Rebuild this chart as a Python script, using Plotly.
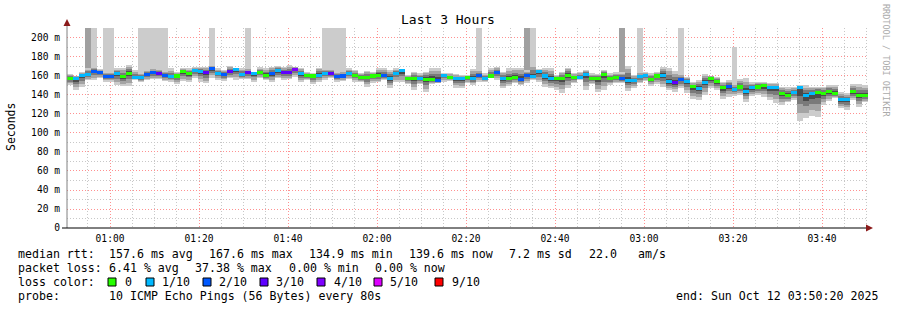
import numpy as np
import pandas as pd
import plotly.graph_objects as go

# ---------------- data (80 s steps, 00:50:20 -> 03:50:20) ----------------
start_time = "2025-10-12 00:50:20"
step_seconds = 80

median_ms = [
    157.6, 157.0, 160.7, 162.0, 165.0, 163.5, 159.0, 159.0, 162.5, 159.0,
    163.0, 158.0, 158.0, 161.5, 163.5, 162.5, 160.5, 159.0, 160.0, 165.0,
    162.5, 165.5, 165.0, 163.5, 167.5, 163.0, 161.5, 165.0, 167.0, 162.0,
    163.5, 162.5, 163.5, 160.7, 162.5, 165.3, 163.5, 163.5, 166.6, 162.5,
    160.7, 160.0, 161.0, 163.0, 163.0, 159.6, 160.0, 162.8, 161.0, 158.8,
    158.8, 160.0, 160.7, 160.3, 157.5, 162.8, 165.3, 157.5, 157.5, 157.2,
    156.8, 156.8, 155.4, 161.0, 158.1, 157.2, 157.5, 158.8, 157.2, 161.0,
    157.5, 160.0, 163.5, 157.5, 157.5, 158.1, 156.8, 160.7, 159.3, 164.6,
    160.0, 157.5, 157.5, 157.5, 161.0, 158.1, 158.1, 162.0, 157.5, 157.5,
    162.0, 157.5, 158.1, 157.8, 155.4, 155.4, 159.3, 160.3, 156.8, 160.0,
    161.0, 153.7, 153.3, 156.5, 154.4, 148.8, 146.8, 153.3, 157.2, 154.0,
    147.4, 149.1, 145.8, 148.4, 144.0, 147.4, 148.4, 149.5, 147.7, 147.7,
    141.4, 139.3, 142.8, 147.4, 139.6, 141.4, 143.0, 141.7, 143.5, 142.0,
    134.9, 134.9, 143.7, 139.3, 139.6,
]

loss_count = [
    0, 1, 1, 1, 2, 2, 2, 2, 1, 0,
    0, 1, 1, 2, 2, 3, 2, 1, 0, 0,
    0, 1, 1, 3, 2, 1, 2, 3, 1, 1,
    3, 1, 0, 0, 2, 1, 3, 3, 4, 1,
    0, 0, 1, 1, 3, 2, 2, 1, 0, 0,
    0, 0, 0, 2, 1, 1, 1, 0, 0, 1,
    0, 0, 2, 1, 0, 1, 1, 0, 1, 2,
    1, 0, 2, 1, 0, 0, 2, 2, 1, 1,
    1, 1, 0, 0, 0, 0, 1, 1, 0, 0,
    0, 0, 0, 2, 1, 1, 1, 1, 0, 0,
    1, 1, 3, 2, 1, 0, 1, 1, 0, 0,
    0, 2, 1, 0, 1, 1, 0, 0, 1, 1,
    0, 0, 1, 1, 1, 1, 0, 0, 0, 0,
    1, 1, 0, 0, 0,
]

smoke_low = [
    150.5, 144.9, 148.1, 155.8, 155.8, 157.5, 154.0, 154.0, 150.2, 149.5,
    149.5, 155.8, 154.0, 155.8, 156.5, 156.8, 154.7, 154.0, 151.2, 154.7,
    154.0, 158.2, 154.0, 152.3, 158.2, 155.8, 154.7, 157.5, 155.8, 156.5,
    156.5, 154.0, 157.5, 155.8, 154.0, 157.5, 155.8, 156.5, 159.3, 153.3,
    155.8, 151.2, 154.0, 155.8, 157.5, 154.0, 154.7, 156.5, 154.0, 153.3,
    148.8, 152.3, 153.3, 155.8, 147.7, 154.0, 153.3, 151.2, 145.3, 151.2,
    142.8, 151.2, 152.3, 154.0, 154.7, 147.7, 147.0, 152.3, 150.5, 154.0,
    153.3, 157.5, 155.8, 147.0, 149.8, 152.3, 150.5, 152.3, 155.8, 153.3,
    148.8, 147.0, 145.3, 142.4, 147.0, 152.3, 155.8, 145.3, 151.2, 142.8,
    145.3, 150.5, 152.3, 152.3, 144.2, 147.0, 152.3, 154.7, 149.8, 151.2,
    148.8, 145.3, 143.5, 147.0, 141.7, 135.8, 134.7, 140.0, 147.0, 145.3,
    135.8, 138.2, 139.3, 140.0, 133.0, 139.3, 140.0, 138.2, 134.7, 131.2,
    129.5, 132.3, 134.7, 112.6, 115.4, 118.2, 117.2, 129.5, 133.7, 136.5,
    126.0, 124.2, 134.7, 127.7, 132.3,
]

smoke_high = [
    162.1, 160.3, 164.6, 168.0, 170.0, 167.0, 165.0, 165.0, 168.1, 168.1,
    171.6, 166.3, 164.0, 167.0, 168.0, 168.0, 166.0, 168.0, 164.6, 168.1,
    168.1, 169.8, 169.8, 169.8, 172.0, 168.1, 166.3, 170.9, 168.1, 168.1,
    168.0, 164.6, 169.1, 168.8, 169.8, 170.9, 169.8, 171.6, 169.8, 168.8,
    164.6, 162.8, 168.8, 168.0, 168.0, 165.0, 165.0, 168.1, 166.3, 162.8,
    165.3, 164.6, 168.8, 168.8, 166.3, 168.1, 167.0, 161.0, 164.6, 162.8,
    164.6, 168.1, 168.8, 162.8, 162.8, 161.8, 161.0, 161.0, 167.4, 166.0,
    162.8, 168.1, 169.8, 164.6, 168.1, 168.8, 168.8, 166.0, 173.0, 167.4,
    168.1, 168.1, 161.0, 164.6, 168.8, 162.8, 164.6, 166.3, 162.8, 161.8,
    166.3, 162.8, 163.9, 164.0, 170.9, 161.0, 164.0, 164.6, 162.8, 164.6,
    169.8, 168.8, 165.3, 162.0, 159.3, 153.3, 155.8, 161.8, 160.3, 159.3,
    154.0, 155.8, 152.0, 156.8, 157.5, 153.3, 154.0, 153.3, 152.3, 152.3,
    148.8, 148.8, 148.8, 150.5, 150.5, 148.8, 148.8, 148.8, 150.5, 150.5,
    143.5, 141.7, 151.2, 151.2, 150.5,
]

# columns where smoke runs off the top of the graph (lost/very slow pings)
spike_light_steps = [4, 6, 7, 12, 13, 14, 15, 16, 24, 30, 43, 44, 45, 46, 69, 78, 96, 103]
spike_dark_steps = [3, 77, 93]
partial_spike = {112: 190.5}

loss_levels = [0, 1, 2, 3, 4, 5, 9]
loss_labels = ["0", "1/10", "2/10", "3/10", "4/10", "5/10", "9/10"]
loss_colors = ["#26ff00", "#00b8ff", "#0059ff", "#5e00ff", "#7e00ff", "#dd00ff", "#ff0000"]

y_tick_vals = [0, 20, 40, 60, 80, 100, 120, 140, 160, 180, 200]
y_tick_text = ["0", "20 m", "40 m", "60 m", "80 m", "100 m", "120 m", "140 m",
               "160 m", "180 m", "200 m"]

# ---------------- figure ----------------
W, H = 897, 310
ML, MR, MT, MB = 67, 29, 28, 82
Y_MAX = 210.5
MONO = "DejaVu Sans Mono"

n = len(median_ms)
t0 = pd.Timestamp(start_time)
centers = t0 + pd.to_timedelta(np.arange(n) * step_seconds + step_seconds / 2, unit="s")
t_end = t0 + pd.Timedelta(seconds=n * step_seconds)
bw = step_seconds * 1000

med = np.array(median_ms)
lo = np.array(smoke_low)
hi = np.array(smoke_high)


def color_for_loss(c):
    best = 0
    for i, lv in enumerate(loss_levels):
        if c >= lv:
            best = i
    return loss_colors[best]


def bar(base, top, color):
    return go.Bar(x=centers, base=base, y=np.array(top) - np.array(base), width=bw,
                  marker=dict(color=color, line=dict(width=0)),
                  hoverinfo="skip", showlegend=False)


fig = go.Figure()

# spikes to top
sp_base, sp_top, sp_col = [], [], []
for k in range(n):
    if k in spike_dark_steps:
        sp_base.append(lo[k]); sp_top.append(Y_MAX); sp_col.append("#a0a0a0")
    elif k in spike_light_steps:
        sp_base.append(lo[k]); sp_top.append(Y_MAX); sp_col.append("#cccccc")
    elif k in partial_spike:
        sp_base.append(lo[k]); sp_top.append(partial_spike[k]); sp_col.append("#cccccc")
    else:
        sp_base.append(0); sp_top.append(0); sp_col.append("rgba(0,0,0,0)")
fig.add_trace(bar(sp_base, sp_top, sp_col))

# smoke shading (outer pings light, inner pings darker)
fig.add_trace(bar(lo, hi, "#cccccc"))
for frac, col in [(0.75, "#a4a4a4"), (0.48, "#7a7a7a"), (0.24, "#4a4a4a")]:
    fig.add_trace(bar(med - frac * (med - lo), med + frac * (hi - med), col))

# median coloured by loss
fig.add_trace(bar(med - 1.6, med + 1.6, [color_for_loss(c) for c in loss_count]))

fig.update_layout(
    width=W, height=H,
    margin=dict(l=ML, r=MR, t=MT, b=MB, pad=0),
    paper_bgcolor="white", plot_bgcolor="white",
    barmode="overlay", bargap=0,
    font=dict(family=MONO, color="black"),
    showlegend=False,
)

fig.update_xaxes(
    type="date", range=[t0, t_end],
    tick0="2025-10-12 01:00:00", dtick=20 * 60 * 1000, tickformat="%H:%M",
    tickfont=dict(family=MONO, size=9.6, color="black"),
    showgrid=True, gridcolor="#ff9090", griddash="1px,2px", gridwidth=1,
    minor=dict(dtick=5 * 60 * 1000, tick0="2025-10-12 01:00:00", showgrid=True,
               gridcolor="#c8c8c8", griddash="1px,2px", gridwidth=1),
    showline=False, zeroline=False, ticks="", ticklabelstandoff=3,
    fixedrange=True,
)
fig.update_yaxes(
    range=[0, Y_MAX], tickvals=y_tick_vals, ticktext=y_tick_text,
    tickfont=dict(family=MONO, size=9.6, color="black"),
    showgrid=True, gridcolor="#ff9090", griddash="1px,2px", gridwidth=1,
    minor=dict(dtick=10, tick0=0, showgrid=True, gridcolor="#c8c8c8",
               griddash="1px,2px", gridwidth=1),
    showline=False, zeroline=False, ticks="", ticklabelstandoff=6,
    fixedrange=True,
)


def px(xp):
    return (xp - ML) / (W - ML - MR)


def py(yp):
    return (H - MB - yp) / (H - MT - MB)


shapes = []
# axes lines
shapes.append(dict(type="line", xref="paper", yref="paper", x0=px(67), x1=px(67),
                   y0=py(228), y1=py(24), line=dict(color="#808080", width=1), layer="above"))
shapes.append(dict(type="line", xref="paper", yref="paper", x0=px(62), x1=px(867),
                   y0=py(228), y1=py(228), line=dict(color="black", width=1), layer="above"))
# arrows
ax, ay = px, py
shapes.append(dict(type="path", xref="paper", yref="paper",
                   path=f"M {ax(866)} {ay(224.5)} L {ax(873)} {ay(228)} L {ax(866)} {ay(231.5)} Z",
                   fillcolor="#8b1a1a", line=dict(width=0), layer="above"))
shapes.append(dict(type="path", xref="paper", yref="paper",
                   path=f"M {ax(63.5)} {ay(26)} L {ax(67)} {ay(19)} L {ax(70.5)} {ay(26)} Z",
                   fillcolor="#8b1a1a", line=dict(width=0), layer="above"))

annotations = []


def text(s, xp, yp, size=11.6, anchor="left", color="black", angle=0):
    annotations.append(dict(text=s, x=px(xp), y=py(yp), xref="paper", yref="paper",
                            xanchor=anchor, yanchor="middle", showarrow=False,
                            textangle=angle,
                            font=dict(family=MONO, size=size, color=color)))


text("Last 3 Hours", 448, 20, size=13, anchor="center")
text("Seconds", 11, 127, size=11.5, anchor="center", angle=-90)
text("RRDTOOL / TOBI OETIKER", 886, 60, size=8.5, anchor="center", color="#aaaaaa", angle=90)

# legend rows
text("median rtt:", 16, 254)
for s, xp in [("157.6 ms avg", 107.3), ("167.6 ms max", 207.3), ("134.9 ms min", 307.3),
              ("139.6 ms now", 406.7), ("7.2 ms sd", 507.3), ("22.0", 586.7), ("am/s", 635.7)]:
    text(s, xp, 254)
text("packet loss:", 16, 268)
for s, xp in [("6.41 % avg", 107.3), ("37.38 % max", 193.3), ("0.00 % min", 286.7),
              ("0.00 % now", 372.7)]:
    text(s, xp, 268)
text("loss color:", 16, 282)
box_left = [108, 146, 203, 260, 317, 374, 435]
label_left = [123, 160, 217, 274, 332, 388, 450]
for lab, col, bx, lx in zip(loss_labels, loss_colors, box_left, label_left):
    shapes.append(dict(type="rect", xref="paper", yref="paper",
                       x0=px(bx), x1=px(bx + 8), y0=py(286), y1=py(278),
                       fillcolor=col, line=dict(color="black", width=1), layer="above"))
    text(lab, lx, 282)
text("probe:", 16, 296)
text("10 ICMP Echo Pings (56 Bytes) every 80s", 107.3, 296)
text("end: Sun Oct 12 03:50:20 2025", 880, 296, anchor="right")

fig.update_layout(shapes=shapes, annotations=annotations)
fig.write_html("out.html")
